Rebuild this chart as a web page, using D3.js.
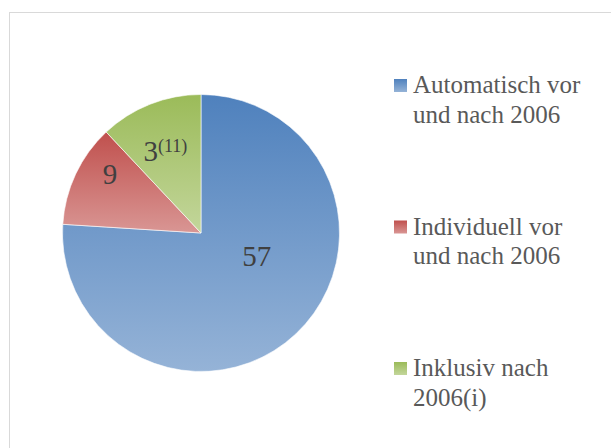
<!DOCTYPE html>
<html>
<head>
<meta charset="utf-8">
<script src="https://cdn.jsdelivr.net/npm/d3@7"></script>
<style>
  html, body { margin: 0; padding: 0; background: #fff; }
  svg { display: block; }
</style>
</head>
<body>
<div id="main"></div>
<script>
// slice data
var categories = ['Automatisch vor und nach 2006', 'Individuell vor und nach 2006', 'Inklusiv nach 2006(i)'];
var legendLines = [['Automatisch vor', 'und nach 2006'], ['Individuell vor', 'und nach 2006'], ['Inklusiv nach', '2006(i)']];
var values = [57, 9, 9];
var labelMain = ['57', '9', '3'];
var labelSup = ['', '', '(11)'];

var topColors = ['#4f81bd', '#c0504d', '#9bbb59'];
var bottomColors = ['#95b3d7', '#d99694', '#c3d69b'];

var width = 611, height = 448;
var cx = 201, cy = 233, R = 138.5;

var svg = d3.select('#main').append('svg')
    .attr('width', width).attr('height', height);

// chart frame
svg.append('rect')
    .attr('x', 9.5).attr('y', 12.5)
    .attr('width', 620).attr('height', 460)
    .attr('fill', 'none').attr('stroke', '#d9d9d9');

var defs = svg.append('defs');
values.forEach(function(v, i) {
  var g = defs.append('linearGradient')
      .attr('id', 'grad' + i)
      .attr('x1', 0).attr('y1', 0).attr('x2', 0).attr('y2', 1);
  g.append('stop').attr('offset', '0%').attr('stop-color', topColors[i]);
  g.append('stop').attr('offset', '100%').attr('stop-color', bottomColors[i]);
});

var pie = d3.pie().sort(null).value(function(d) { return d; });
var arc = d3.arc().innerRadius(0).outerRadius(R);
var labelArc = d3.arc().innerRadius(83).outerRadius(83);
var arcs = pie(values);

var g = svg.append('g').attr('transform', 'translate(' + cx + ',' + cy + ')');

g.selectAll('path.slice')
  .data(arcs)
  .enter().append('path')
    .attr('class', 'slice')
    .attr('d', arc)
    .attr('fill', function(d, i) { return 'url(#grad' + i + ')'; })
    .attr('stroke', '#fff')
    .attr('stroke-width', 0.6);

// nudges to mimic best-fit placement
var nudge = [[-1, -28], [-16, -14], [-5, 5]];

var lbl = g.selectAll('text.lbl')
  .data(arcs)
  .enter().append('text')
    .attr('class', 'lbl')
    .attr('x', function(d) { return labelArc.centroid(d)[0] + nudge[d.index][0]; })
    .attr('y', function(d) { return labelArc.centroid(d)[1] + nudge[d.index][1]; })
    .attr('text-anchor', 'middle')
    .attr('font-family', 'Liberation Serif, serif')
    .attr('font-size', 29)
    .attr('fill', '#404040');

lbl.append('tspan').text(function(d) { return labelMain[d.index]; });
lbl.filter(function(d) { return labelSup[d.index]; })
  .append('tspan')
    .attr('font-size', 18)
    .attr('dy', -9)
    .text(function(d) { return labelSup[d.index]; });

// legend
var legendY = d3.scalePoint().domain(categories).range([79, 362]);

var leg = svg.selectAll('g.legend')
  .data(categories)
  .enter().append('g')
    .attr('class', 'legend')
    .attr('transform', function(d) { return 'translate(394,' + legendY(d) + ')'; });

leg.append('rect')
    .attr('width', 13).attr('height', 13)
    .attr('fill', function(d, i) { return 'url(#grad' + i + ')'; });

leg.each(function(d, i) {
  var t = d3.select(this).append('text')
      .attr('font-family', 'Liberation Serif, serif')
      .attr('font-size', 25)
      .attr('fill', '#595959');
  legendLines[i].forEach(function(line, j) {
    t.append('tspan')
        .attr('x', 19)
        .attr('y', 14 + j * 29.5)
        .text(line);
  });
});
</script>
</body>
</html>
